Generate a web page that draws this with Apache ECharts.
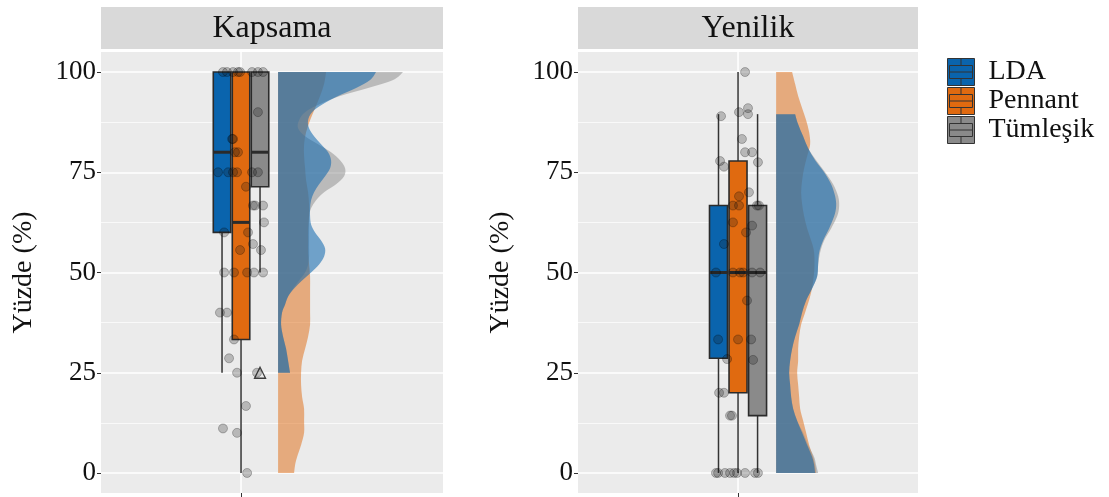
<!DOCTYPE html>
<html><head><meta charset="utf-8">
<script src="https://cdn.jsdelivr.net/npm/echarts@6/dist/echarts.min.js"></script>
<style>html,body{margin:0;padding:0;background:#fff}#c{width:1109px;height:497px}</style>
</head><body><div id="c"></div>
<script>
// ---------- DATA ----------
const panels = ['Kapsama', 'Yenilik'];
const groups = ['LDA', 'Pennant', 'Tümleşik'];
const yTicks = [0, 25, 50, 75, 100];
const yTitle = 'Yüzde (%)';

// box statistics: [lower whisker, Q1, median, Q3, upper whisker]
const boxKapsama = [[25, 60, 80, 100, 100], [0, 33.3, 62.5, 100, 100], [50, 71.4, 80, 100, 100]];
const boxYenilik = [[0, 28.6, 50, 66.7, 89.5], [0, 20, 50, 77.8, 100], [0, 14.3, 50, 66.7, 89.5]];
// outliers: [group index, value]
const outKapsama = [[2, 25]];
const outYenilik = [];

// jittered raw points: [x position (group centre + jitter), value]
const ptsKapsama = [
  [-0.95,100],[-0.74,100],[-0.42,100],[-0.16,100],[-0.05,100],[0.58,100],[0.89,100],[1.16,100],
  [0.89,90],[-0.47,83.3],[-0.42,83.3],[-0.32,80],[-0.16,80],
  [-1.21,75],[-0.68,75],[-0.42,75],[-0.21,75],[0.58,75],[0.89,75],
  [0.26,71.4],[0.63,66.7],[0.74,66.7],[1.16,66.7],[1.21,62.5],[-0.89,60],[0.37,60],[0.63,57.1],
  [-0.05,55.6],[1.05,55.6],[-0.89,50],[-0.37,50],[0.32,50],[0.68,50],[1.16,50],
  [-1.11,40],[-0.74,40],[-0.37,33.3],[-0.63,28.6],[-0.21,25],[0.84,25],
  [0.26,16.7],[-0.95,11.1],[-0.21,10],[0.32,0]
];
const ptsYenilik = [
  [0.36,100],[-0.87,89],[0.05,90],[0.51,91],[0.51,89.5],[0.2,83.3],
  [-0.92,77.8],[-0.72,76.4],[0.36,80],[0.72,80],[1.02,77.5],[0.56,70],[0.05,69],
  [-0.26,66.7],[0.05,66.7],[0.97,66.7],[1.07,66.7],[-0.26,62.5],[0.72,61.7],[0.41,60],[-0.72,57.1],
  [-1.13,50],[-0.26,50],[0.1,50],[0.26,50],[0.72,50],[1.13,50],
  [0.46,43],[-1.02,33.3],[0,33.3],[0.67,33.3],[0.77,28.2],[-0.56,28.4],
  [-0.97,20],[-0.72,20],[-0.41,14.3],[-0.31,14.3],
  [-1.13,0],[-1.02,0],[-0.67,0],[-0.41,0],[-0.2,0],[-0.05,0],[0.36,0],[0.87,0],[1.02,0]
];

// half-violin densities: [value, relative density]
const densKapsamaLDA = [[25,12],[28,10],[31,8],[34,5],[37,3],[40,4],[42,7],[44,10],[46,16],[48,24],[50,33],[52,41],[54,46],[56,47],[58,43],[60,37],[62,33],[64,32],[66,32],[68,33],[70,36],[72,41],[74,47],[76,52],[78,53],[80,50],[82,43],[84,36],[86,31],[88,30],[90,34],[92,45],[94,60],[96,78],[98,92],[100,98]];
const densKapsamaPennant = [[0,16],[2,17],[4,19],[7,23],[10,26],[13,26],[16,26],[19,24],[22,23],[25,23],[28,24],[31,27],[34,30],[37,32],[40,32],[43,32],[46,32],[49,32],[52,31],[55,30],[58,30],[61,30],[64,31],[67,31],[70,30],[73,28],[76,27],[79,26],[82,26],[85,28],[88,32],[91,37],[94,42],[97,46],[100,48]];
const densKapsamaTum = [[25,12],[28,10],[31,8],[34,5],[37,3],[40,4],[42,7],[44,10],[46,15],[48,21],[50,27],[52,30],[54,31],[56,31],[58,31],[60,31],[62,31],[64,31],[66,33],[68,38],[70,46],[72,58],[74,66],[76,67],[78,62],[80,53],[82,40],[84,27],[86,20],[88,21],[90,27],[92,42],[94,62],[96,90],[98,115],[100,125]];
const densYenilikLDA = [[0,39],[2,38],[4,36],[7,31],[10,26],[13,21],[16,17],[19,15],[22,14],[25,13],[28,14],[31,16],[34,19],[37,23],[40,26],[43,30],[46,36],[49,41],[52,42],[55,43],[58,47],[61,53],[64,58],[66.5,60],[69,59],[72,55],[75,48],[78,39],[81,32],[84,27],[87,22],[89.5,19]];
const densYenilikPennant = [[0,40],[2,39],[4,37],[7,33],[10,30],[13,27],[16,24],[19,23],[22,22],[25,21],[28,22],[31,22],[34,23],[37,25],[40,29],[45,35],[50,38],[55,38],[58,35],[61,31],[64,28],[67,26],[70,25],[73,26],[76,28],[79,31],[82,34],[85,33],[88,30],[91,26],[94,22],[97,19],[100,16]];
const densYenilikTum = [[0,42],[2,40],[4,38],[7,32],[10,27],[13,21],[16,17],[19,15],[22,14],[25,13],[28,14],[31,16],[34,19],[37,23],[40,26],[43,30],[46,36],[49,41],[52,42],[55,44],[58,48],[61,55],[64,61],[66.5,63],[69,62],[72,57],[75,49],[78,40],[81,32],[84,27],[87,22],[89.5,19]];

// ---------- STYLE / LAYOUT ----------
const colors = ['#0a64ad', '#e06a10', '#8a8a8a'];
const densAlpha = [0.55, 0.5, 0.5];
const FONT = 'Liberation Serif';
const layout = [
  {left: 101, width: 342, xmin: -7.37, xmax: 10.63, dscale: 1 / 19},
  {left: 578, width: 340, xmin: -8.19, xmax: 9.21, dscale: 1 / 19.54}
];
const BASE = 1.95, HW = 0.46;
const boxData = [boxKapsama, boxYenilik];
const outData = [outKapsama, outYenilik];
const ptsData = [ptsKapsama, ptsYenilik];
const densData = [[densKapsamaLDA, densKapsamaPennant, densKapsamaTum], [densYenilikLDA, densYenilikPennant, densYenilikTum]];

// Catmull-Rom edge -> SVG path (rendering helper only)
function smoothEdgePath(base0, edge, base1) {
  const f = v => v.toFixed(2);
  let s = 'M' + f(base0[0]) + ',' + f(base0[1]) + 'L' + f(edge[0][0]) + ',' + f(edge[0][1]);
  for (let i = 0; i < edge.length - 1; i++) {
    const p0 = edge[Math.max(i - 1, 0)], p1 = edge[i], p2 = edge[i + 1], p3 = edge[Math.min(i + 2, edge.length - 1)];
    const c1 = [p1[0] + (p2[0] - p0[0]) / 6, p1[1] + (p2[1] - p0[1]) / 6];
    const c2 = [p2[0] - (p3[0] - p1[0]) / 6, p2[1] - (p3[1] - p1[1]) / 6];
    s += 'C' + f(c1[0]) + ',' + f(c1[1]) + ' ' + f(c2[0]) + ',' + f(c2[1]) + ' ' + f(p2[0]) + ',' + f(p2[1]);
  }
  s += 'L' + f(base1[0]) + ',' + f(base1[1]) + 'Z';
  return s;
}

const grids = [], xAxes = [], yAxes = [], series = [], graphics = [];
panels.forEach((title, p) => {
  const L = layout[p];
  grids.push({left: L.left, top: 52, width: L.width, height: 441, show: true, backgroundColor: '#ebebeb', borderWidth: 0});
  grids.push({left: L.left, top: 72, width: L.width, height: 401});
  xAxes.push({gridIndex: 2 * p, type: 'value', min: L.xmin, max: L.xmax, position: 'bottom',
    axisLine: {show: false, onZero: false}, splitLine: {show: false},
    axisTick: {show: true, customValues: [0], length: 4, lineStyle: {color: '#333', width: 1}},
    axisLabel: {show: false}});
  xAxes.push({gridIndex: 2 * p + 1, type: 'value', min: 0, max: 1, show: false});
  yAxes.push({gridIndex: 2 * p, type: 'value', min: -5, max: 105, show: false});
  yAxes.push({gridIndex: 2 * p + 1, type: 'value', min: 0, max: 100, interval: 25,
    name: yTitle, nameLocation: 'middle', nameGap: 63,
    nameTextStyle: {fontFamily: FONT, fontSize: 28, color: '#111'},
    axisLine: {show: false},
    axisTick: {show: true, length: 4, lineStyle: {color: '#333', width: 1}},
    axisLabel: {fontFamily: FONT, fontSize: 27, color: '#111', margin: 5,
      formatter: v => yTicks.includes(v) ? String(v) : ''},
    splitLine: {lineStyle: {color: '#ffffff', width: 1.5}},
    minorTick: {show: false, splitNumber: 2},
    minorSplitLine: {show: true, lineStyle: {color: '#ffffff', width: 0.7}}});

  // vertical major grid line at the single x category
  series.push({type: 'custom', name: 'vgrid', xAxisIndex: 2 * p, yAxisIndex: 2 * p, z: 1, silent: true,
    data: [[0, -5, 105]], clip: false,
    renderItem(params, api) {
      const a = api.coord([api.value(0), api.value(1)]), b = api.coord([api.value(0), api.value(2)]);
      return {type: 'line', shape: {x1: a[0], y1: a[1], x2: b[0], y2: b[1]}, style: {stroke: '#ffffff', lineWidth: 1.5}};
    }});

  // densities (order: orange, gray, blue)
  [1, 2, 0].forEach((g) => {
    const dens = densData[p][g];
    series.push({
      type: 'custom', name: groups[g], xAxisIndex: 2 * p, yAxisIndex: 2 * p, z: 2,
      silent: true, data: dens, clip: false,
      renderItem(params, api) {
        if (params.dataIndex !== 0) return null;
        const d = dens.slice().sort((a, b) => a[0] - b[0]);
        const edge = d.map(q => api.coord([BASE + q[1] * L.dscale, q[0]]));
        const b0 = api.coord([BASE, d[0][0]]), b1 = api.coord([BASE, d[d.length - 1][0]]);
        return {type: 'path', shape: {pathData: smoothEdgePath(b0, edge, b1)},
          style: {fill: colors[g], opacity: densAlpha[g]}};
      }
    });
  });

  // boxes
  groups.forEach((gname, g) => {
    const b = boxData[p][g];
    series.push({
      type: 'custom', name: gname, xAxisIndex: 2 * p, yAxisIndex: 2 * p, z: 3, silent: true,
      data: [[g - 1].concat(b)], clip: false,
      renderItem(params, api) {
        const x = api.value(0);
        const lo = api.value(1), q1 = api.value(2), md = api.value(3), q3 = api.value(4), hi = api.value(5);
        const tl = api.coord([x - HW, q3]), br = api.coord([x + HW, q1]);
        const top = api.coord([x, hi]), q3p = api.coord([x, q3]), q1p = api.coord([x, q1]), bot = api.coord([x, lo]);
        const ml = api.coord([x - HW, md]), mr = api.coord([x + HW, md]);
        const st = {stroke: '#333', lineWidth: 1.5};
        return {type: 'group', children: [
          {type: 'line', shape: {x1: top[0], y1: top[1], x2: q3p[0], y2: q3p[1]}, style: st},
          {type: 'line', shape: {x1: q1p[0], y1: q1p[1], x2: bot[0], y2: bot[1]}, style: st},
          {type: 'rect', shape: {x: tl[0], y: tl[1], width: br[0] - tl[0], height: br[1] - tl[1]},
            style: {fill: colors[g], stroke: '#2b2b2b', lineWidth: 1.6}},
          {type: 'line', shape: {x1: ml[0], y1: ml[1], x2: mr[0], y2: mr[1]}, style: {stroke: '#2b2b2b', lineWidth: 3}}
        ]};
      }
    });
  });

  // points
  series.push({type: 'scatter', name: 'pts', xAxisIndex: 2 * p, yAxisIndex: 2 * p, z: 5, silent: true, clip: false,
    symbolSize: 9, data: ptsData[p],
    itemStyle: {color: 'rgba(20,20,20,0.3)', borderColor: 'rgba(0,0,0,0.3)', borderWidth: 1}});
  // outliers
  if (outData[p].length) {
    series.push({type: 'scatter', name: 'out', xAxisIndex: 2 * p, yAxisIndex: 2 * p, z: 6, silent: true, clip: false,
      symbol: 'triangle', symbolSize: 11, data: outData[p].map(o => [o[0] - 1, o[1]]),
      itemStyle: {color: 'rgba(0,0,0,0)', borderColor: '#111', borderWidth: 1.3}});
  }

  // strip
  graphics.push({type: 'rect', shape: {x: L.left, y: 7, width: L.width, height: 42}, style: {fill: '#d9d9d9'}, silent: true});
  graphics.push({type: 'text', x: L.left + L.width / 2, y: 29, silent: true,
    style: {text: title, fontFamily: FONT, fontSize: 32, fill: '#111', align: 'center', verticalAlign: 'middle'}});
});

const iconPath = 'path://M0,0H27V27H0Z M2,7H25V20H2Z M2,13.5H25 M13.5,0V7 M13.5,20V27';
const option = {
  animation: false,
  backgroundColor: '#ffffff',
  grid: grids, xAxis: xAxes, yAxis: yAxes, series: series, graphic: graphics,
  legend: {
    orient: 'vertical', left: 947, top: 58, padding: 0, itemWidth: 27, itemHeight: 27, itemGap: 1,
    textStyle: {fontFamily: FONT, fontSize: 28, color: '#111', padding: [0, 0, 0, 9]},
    data: groups.map((g, i) => ({name: g, icon: iconPath,
      itemStyle: {color: colors[i], borderColor: '#333', borderWidth: 1, opacity: 1}}))
  }
};
const chart = echarts.init(document.getElementById('c'), null, {renderer: 'canvas'});
chart.setOption(option);
</script></body></html>
